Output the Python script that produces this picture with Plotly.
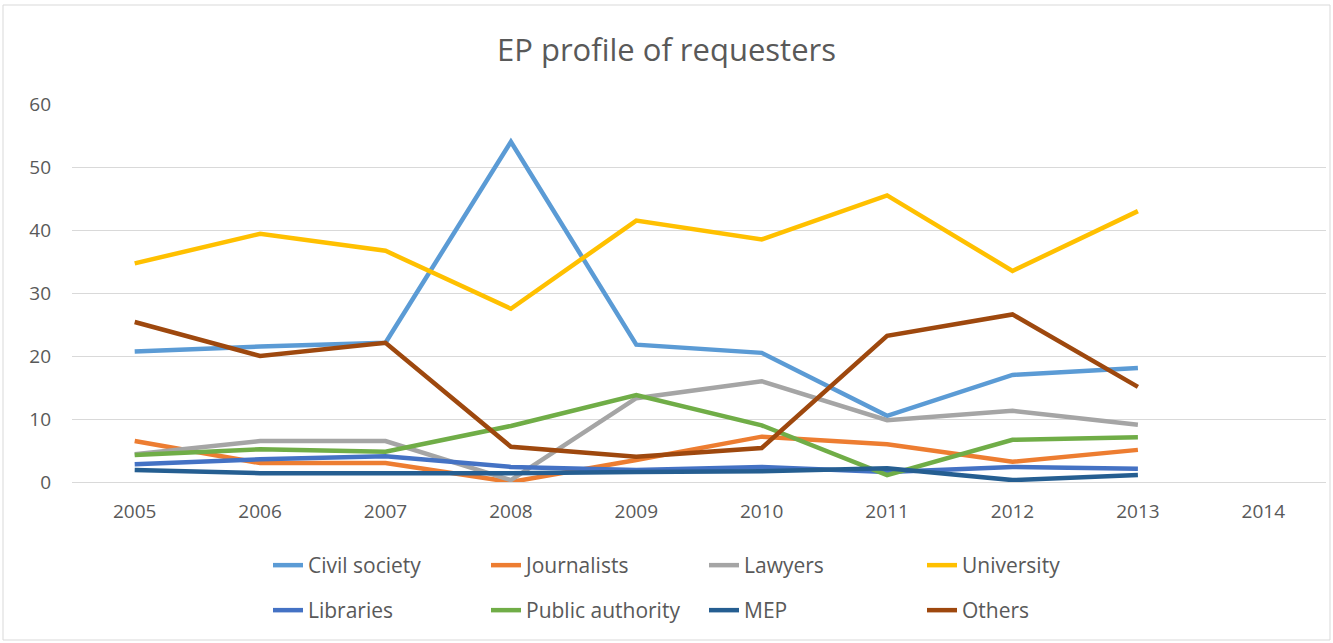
import plotly.graph_objects as go

years = ["2005", "2006", "2007", "2008", "2009", "2010", "2011", "2012", "2013", "2014"]
data_years = years[:9]

civil_society = [20.7, 21.5, 22.1, 54.0, 21.8, 20.5, 10.5, 17.0, 18.1]
journalists = [6.5, 3.0, 3.0, 0.0, 3.5, 7.2, 6.0, 3.2, 5.1]
lawyers = [4.4, 6.5, 6.5, 0.3, 13.3, 16.0, 9.8, 11.3, 9.1]
university = [34.7, 39.4, 36.7, 27.5, 41.5, 38.5, 45.5, 33.5, 43.0]
libraries = [2.8, 3.6, 4.1, 2.4, 1.9, 2.4, 1.6, 2.4, 2.1]
public_authority = [4.3, 5.2, 4.8, 8.9, 13.8, 9.0, 1.1, 6.7, 7.1]
mep = [1.9, 1.4, 1.4, 1.4, 1.6, 1.7, 2.2, 0.3, 1.1]
others = [25.4, 20.0, 22.1, 5.6, 4.0, 5.4, 23.2, 26.6, 15.1]

series = [
    ("Civil society", civil_society, "#5B9BD5", "legend"),
    ("Journalists", journalists, "#ED7D31", "legend"),
    ("Lawyers", lawyers, "#A5A5A5", "legend"),
    ("University", university, "#FFC000", "legend"),
    ("Libraries", libraries, "#4472C4", "legend2"),
    ("Public authority", public_authority, "#70AD47", "legend2"),
    ("MEP", mep, "#255E91", "legend2"),
    ("Others", others, "#9E480E", "legend2"),
]

fig = go.Figure()
for name, vals, color, leg in series:
    fig.add_trace(go.Scatter(
        x=data_years, y=vals, name=name, mode="lines",
        line=dict(color=color, width=4.5), legend=leg,
    ))

font_family = "Open Sans, Liberation Sans, sans-serif"
PW, PH, PL, PB = 1254, 378, 72, 482

def px_x(x):
    return (x - PL) / PW

def px_y(y):
    return (PB - y) / PH

leg_common = dict(orientation="h", xanchor="left", yanchor="top",
                  entrywidth=173, entrywidthmode="pixels",
                  font=dict(size=21, color="#595959"),
                  bgcolor="rgba(0,0,0,0)")

fig.update_layout(
    width=1333, height=643,
    margin=dict(l=72, r=7, t=104, b=161),
    paper_bgcolor="white", plot_bgcolor="white",
    font=dict(family=font_family, color="#595959", size=19),
    title=dict(text="EP profile of requesters", x=0.5, xanchor="center",
               y=1 - 50 / 643, yanchor="middle",
               font=dict(size=31, color="#595959", family=font_family)),
    xaxis=dict(type="category", categoryorder="array", categoryarray=years,
               range=[-0.5, 9.5], showgrid=False, showline=False,
               zeroline=False, ticks="", ticklabelstandoff=16,
               tickfont=dict(size=19, color="#595959")),
    yaxis=dict(range=[0, 60], dtick=10, showgrid=True, gridcolor="#D9D9D9",
               gridwidth=1, zeroline=True, zerolinecolor="#D9D9D9", zerolinewidth=1,
               showline=False, ticks="", ticklabelstandoff=20,
               tickfont=dict(size=19, color="#595959")),
    legend=dict(x=px_x(268), y=px_y(545), **leg_common),
    legend2=dict(x=px_x(268), y=px_y(590), **leg_common),
    showlegend=True,
)

fig.add_shape(type="rect", xref="paper", yref="paper",
              x0=px_x(3), x1=px_x(1330),
              y0=px_y(640), y1=px_y(5),
              line=dict(color="#D9D9D9", width=1), fillcolor="rgba(0,0,0,0)",
              layer="below")

fig.write_html("out.html")
